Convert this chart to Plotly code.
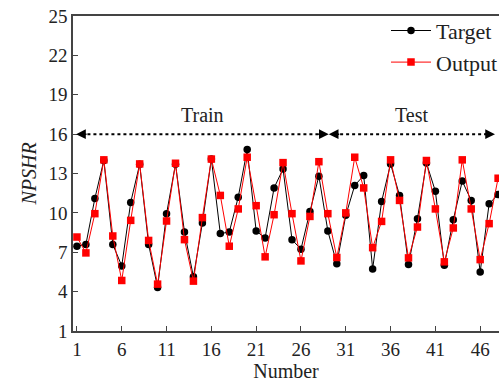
import plotly.graph_objects as go

numbers = list(range(1, 49))
target = [7.46, 7.6, 11.1, 14.0, 7.6, 5.96, 10.8, 13.7, 7.6, 4.32,
          9.94, 13.7, 8.54, 5.13, 9.23, 14.1, 8.42, 8.54, 11.2, 14.82,
          8.62, 8.09, 11.9, 13.35, 7.96, 7.23, 10.1, 12.8, 8.62, 6.12,
          9.81, 12.09, 12.85, 5.73, 10.87, 13.73, 11.33, 6.06, 9.56, 13.8,
          11.65, 6.01, 9.48, 12.42, 10.95, 5.5, 10.7, 11.4]
output = [8.16, 6.95, 9.94, 14.04, 8.24, 4.85, 9.43, 13.73, 7.9, 4.57,
          9.38, 13.78, 7.96, 4.8, 9.64, 14.1, 11.33, 7.46, 10.3, 14.24,
          10.55, 6.65, 9.86, 13.83, 9.94, 6.34, 9.73, 13.9, 9.94, 6.6,
          10.0, 14.24, 11.9, 7.35, 9.35, 14.04, 10.95, 6.57, 8.92, 13.99,
          10.3, 6.27, 8.85, 14.04, 10.3, 6.44, 9.18, 12.64]
x_ticks = [1, 6, 11, 16, 21, 26, 31, 36, 41, 46]
y_ticks = [1, 4, 7, 10, 13, 16, 19, 22, 25]
segments = [("Train", 0.9, 29.1), ("Test", 29.1, 47.65)]
arrow_y = 16

font = "Liberation Serif"
fig = go.Figure()
fig.add_trace(go.Scatter(x=numbers, y=target, name="Target", mode="lines+markers",
                         line=dict(color="black", width=1),
                         marker=dict(symbol="circle", size=7.5, color="black")))
fig.add_trace(go.Scatter(x=numbers, y=output, name="Output", mode="lines+markers",
                         line=dict(color="#ff0000", width=1),
                         marker=dict(symbol="square", size=7.5, color="#ff0000")))

for label, x0, x1 in segments:
    fig.add_shape(type="line", x0=x0 + 0.6, x1=x1 - 0.6, y0=arrow_y, y1=arrow_y,
                  xref="x", yref="y", line=dict(color="black", width=2, dash="dot"))
    for tip, off in ((x0, 12), (x1, -12)):
        fig.add_annotation(x=tip, y=arrow_y, ax=off, ay=0, xref="x", yref="y",
                           text="", showarrow=True, arrowhead=2, arrowsize=1.3,
                           arrowwidth=1.5, arrowcolor="black")
    fig.add_annotation(x=(x0 + x1) / 2, y=arrow_y, yshift=19, xref="x", yref="y",
                       text=label, showarrow=False,
                       font=dict(family=font, size=20, color="#222"))

fig.update_layout(
    width=503, height=390,
    margin=dict(l=73, r=0, t=16, b=59),
    paper_bgcolor="white", plot_bgcolor="white",
    font=dict(family=font, size=19, color="#222"),
    showlegend=True,
    legend=dict(x=0.735, y=1.02, xanchor="left", yanchor="top",
                bgcolor="rgba(0,0,0,0)", font=dict(family=font, size=22),
                itemwidth=40, tracegroupgap=0),
    xaxis=dict(range=[0.56, 48.1], tickvals=x_ticks, ticks="inside", ticklen=5,
               showgrid=False, zeroline=False, showline=True, linecolor="#444",
               linewidth=1.5, mirror=True, tickcolor="#444",
               title=dict(text="Number", font=dict(family=font, size=20), standoff=0)),
    yaxis=dict(range=[1, 25], tickvals=y_ticks, ticks="inside", ticklen=5,
               showgrid=False, zeroline=False, showline=True, linecolor="#444",
               linewidth=1.5, tickcolor="#444",
               title=dict(text="<i>NPSHR</i>", font=dict(family=font, size=20), standoff=6)),
)
fig.write_html("out.html")
